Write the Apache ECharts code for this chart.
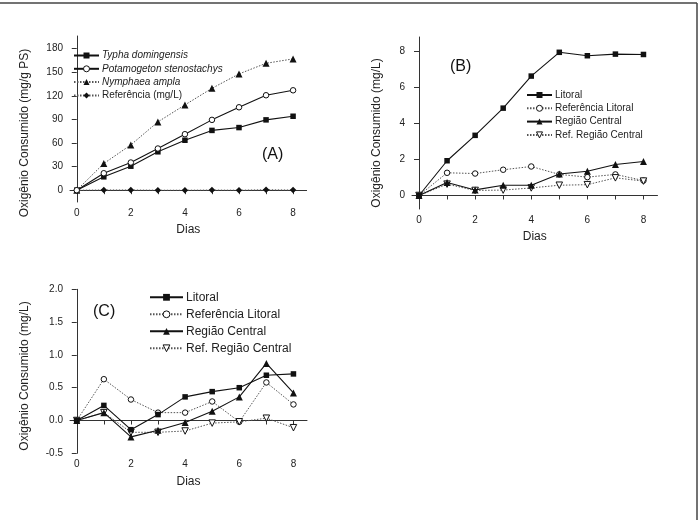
<!DOCTYPE html>
<html>
<head>
<meta charset="utf-8">
<script src="https://cdn.jsdelivr.net/npm/echarts@6/dist/echarts.min.js"></script>
<style>html,body{margin:0;padding:0;background:#fff}#c{width:699px;height:520px}</style>
</head>
<body>
<div id="c"></div>
<script>
// ---- data ----
var days = [0, 1, 2, 3, 4, 5, 6, 7, 8];
var xTicks = [0, 2, 4, 6, 8];
var xMinorTicks = [0, 1, 2, 3, 4, 5, 6, 7, 8];

var aNames = ['Typha domingensis', 'Potamogeton stenostachys', 'Nymphaea ampla', 'Referência (mg/L)'];
var aTypha = [0, 17, 30.5, 48.8, 63.5, 76, 79.6, 89.4, 94];
var aPotam = [0, 21.6, 35.2, 53, 71.2, 89.4, 105.4, 120.7, 127];
var aNymph = [0, 33.9, 57.6, 86.8, 108.4, 129.5, 147.8, 161.3, 166.9];
var aRef = [0, 0.3, 0.3, 0, 0, 0.2, 0, 0.6, 0.2];
var aYTicks = [0, 30, 60, 90, 120, 150, 180];

var bcNames = ['Litoral', 'Referência Litoral', 'Região Central', 'Ref. Região Central'];
var bLit = [0, 1.93, 3.34, 4.85, 6.63, 7.95, 7.76, 7.85, 7.83];
var bRefLit = [0, 1.26, 1.22, 1.43, 1.61, 1.17, 1.02, 1.17, 0.83];
var bCen = [0, 0.72, 0.31, 0.57, 0.57, 1.19, 1.35, 1.72, 1.89];
var bRefCen = [0, 0.63, 0.28, 0.30, 0.42, 0.57, 0.60, 0.98, 0.80];
var bYTicks = [0, 2, 4, 6, 8];

var cLit = [0, 0.23, -0.14, 0.09, 0.36, 0.44, 0.50, 0.69, 0.71];
var cRefLit = [0, 0.63, 0.32, 0.12, 0.12, 0.29, -0.02, 0.58, 0.245];
var cCen = [0, 0.12, -0.25, -0.15, -0.03, 0.14, 0.36, 0.87, 0.42];
var cRefCen = [0, 0.12, -0.18, -0.18, -0.16, -0.04, -0.02, 0.035, -0.11];
var cYTicks = [-0.5, 0.0, 0.5, 1.0, 1.5, 2.0];

var yTitleA = 'Oxigênio Consumido (mg/g PS)';
var yTitleBC = 'Oxigênio Consumido (mg/L)';
var xTitle = 'Dias';

// ---- helpers ----
var FONT = '"Liberation Sans", Arial, sans-serif';
var AX = '#333';
function pairs(vals) { return days.map(function (d, i) { return [d, vals[i]]; }); }

function xAxisDef(gi) {
  return {
    type: 'value', gridIndex: gi, min: -0.25, max: 8.5,
    axisLine: { show: true, lineStyle: { color: AX, width: 1 } },
    axisTick: { show: true, inside: false, length: 4, customValues: xMinorTicks, lineStyle: { color: AX } },
    axisLabel: { customValues: xTicks, margin: 6, fontSize: 10, color: '#222', fontFamily: FONT },
    splitLine: { show: false },
    name: xTitle, nameLocation: 'middle', nameGap: 22,
    nameTextStyle: { fontSize: 12, color: '#222', fontFamily: FONT, verticalAlign: 'top' }
  };
}
function yAxisDef(gi, min, max, ticks, fmt) {
  return {
    type: 'value', gridIndex: gi, min: min, max: max,
    axisLine: { show: true, lineStyle: { color: AX, width: 1 } },
    axisTick: { show: true, inside: false, length: 5, customValues: ticks, lineStyle: { color: AX } },
    axisLabel: { customValues: ticks, margin: 7, fontSize: 10, color: '#222', fontFamily: FONT,
      formatter: fmt || function (v) { return String(v); } },
    splitLine: { show: false }
  };
}
var hollow = { color: '#fff', borderColor: '#111', borderWidth: 1 };
function solid(name, data, xi, sym, size, extra) {
  var s = {
    type: 'line', name: name, xAxisIndex: xi, yAxisIndex: xi, data: pairs(data),
    symbol: sym, symbolSize: size, showAllSymbol: true,
    lineStyle: { color: '#111', width: 1.1, type: 'solid' },
    itemStyle: { color: '#111', borderWidth: 0 },
    animation: false, z: 3
  };
  if (extra) for (var k in extra) s[k] = extra[k];
  return s;
}
function dotted(name, data, xi, sym, size, extra) {
  var s = solid(name, data, xi, sym, size, extra);
  s.lineStyle = { color: '#555', width: 1, type: [1.5, 1.5] };
  s.z = 2;
  return s;
}

var series = [
  solid(aNames[0], aTypha, 0, 'rect', 5.5),
  solid(aNames[1], aPotam, 0, 'circle', 5.5, { itemStyle: hollow }),
  dotted(aNames[2], aNymph, 0, 'triangle', 7),
  dotted(aNames[3], aRef, 0, 'diamond', 6.5),

  solid('Litoral', bLit, 1, 'rect', 5.5),
  dotted('Referência Litoral', bRefLit, 1, 'circle', 5.5, { itemStyle: hollow }),
  solid('Região Central', bCen, 1, 'triangle', 7),
  dotted('Ref. Região Central', bRefCen, 1, 'triangle', 6.5, { symbolRotate: 180, itemStyle: hollow }),

  solid('Litoral', cLit, 2, 'rect', 5.5),
  dotted('Referência Litoral', cRefLit, 2, 'circle', 5.5, { itemStyle: hollow }),
  solid('Região Central', cCen, 2, 'triangle', 7),
  dotted('Ref. Região Central', cRefCen, 2, 'triangle', 6.5, { symbolRotate: 180, itemStyle: hollow })
];

function legendDef(names, left, top, w, h, gap, fs, lh, italicCount) {
  return {
    orient: 'vertical', left: left, top: top, itemWidth: w, itemHeight: h, itemGap: gap,
    padding: 0, selectedMode: false,
    itemStyle: { borderWidth: 1 },
    data: names.map(function (n, i) {
      return { name: n, textStyle: { fontStyle: i < italicCount ? 'italic' : 'normal' } };
    }),
    textStyle: { fontSize: fs, color: '#222', fontFamily: FONT, padding: [0, 0, 0, -2], lineHeight: lh }
  };
}

var chart = echarts.init(document.getElementById('c'), null, { renderer: 'canvas' });
chart.setOption({
  backgroundColor: '#fff',
  animation: false,
  grid: [
    { left: 70, top: 36, width: 236.6, height: 166 },
    { left: 412, top: 37, width: 245.5, height: 172 },
    { left: 70, top: 289.3, width: 237, height: 164 }
  ],
  xAxis: [xAxisDef(0), xAxisDef(1), xAxisDef(2)],
  yAxis: [
    yAxisDef(0, -15, 196, aYTicks),
    yAxisDef(1, -0.75, 8.8, bYTicks),
    yAxisDef(2, -0.5, 2.0, cYTicks, function (v) { return v.toFixed(1); })
  ],
  legend: [
    legendDef(aNames, 73, 50.5, 25, 7.5, 3.3, 10, 10, 3),
    legendDef(bcNames, 526, 90, 25, 7.5, 3.3, 10, 10, 0),
    legendDef(bcNames, 149, 291.3, 33, 8.5, 5, 12, 12, 0)
  ],
  series: series,
  graphic: [
    { type: 'text', left: 262, top: 147, style: { text: '(A)', fontSize: 16, fill: '#111', fontFamily: FONT } },
    { type: 'text', left: 450, top: 59, style: { text: '(B)', fontSize: 16, fill: '#111', fontFamily: FONT } },
    { type: 'text', left: 93, top: 304, style: { text: '(C)', fontSize: 16, fill: '#111', fontFamily: FONT } },
    { type: 'text', x: 25, y: 133, rotation: Math.PI / 2,
      style: { text: yTitleA, fontSize: 12, fill: '#222', fontFamily: FONT, align: 'center', verticalAlign: 'middle' } },
    { type: 'text', x: 377, y: 133, rotation: Math.PI / 2,
      style: { text: yTitleBC, fontSize: 12, fill: '#222', fontFamily: FONT, align: 'center', verticalAlign: 'middle' } },
    { type: 'text', x: 25, y: 376, rotation: Math.PI / 2,
      style: { text: yTitleBC, fontSize: 12, fill: '#222', fontFamily: FONT, align: 'center', verticalAlign: 'middle' } },
    { type: 'line', shape: { x1: 0, y1: 3, x2: 697, y2: 3 }, style: { stroke: '#444', lineWidth: 1.5 } },
    { type: 'line', shape: { x1: 697, y1: 3, x2: 697, y2: 520 }, style: { stroke: '#444', lineWidth: 1.5 } }
  ]
});
</script>
</body>
</html>
